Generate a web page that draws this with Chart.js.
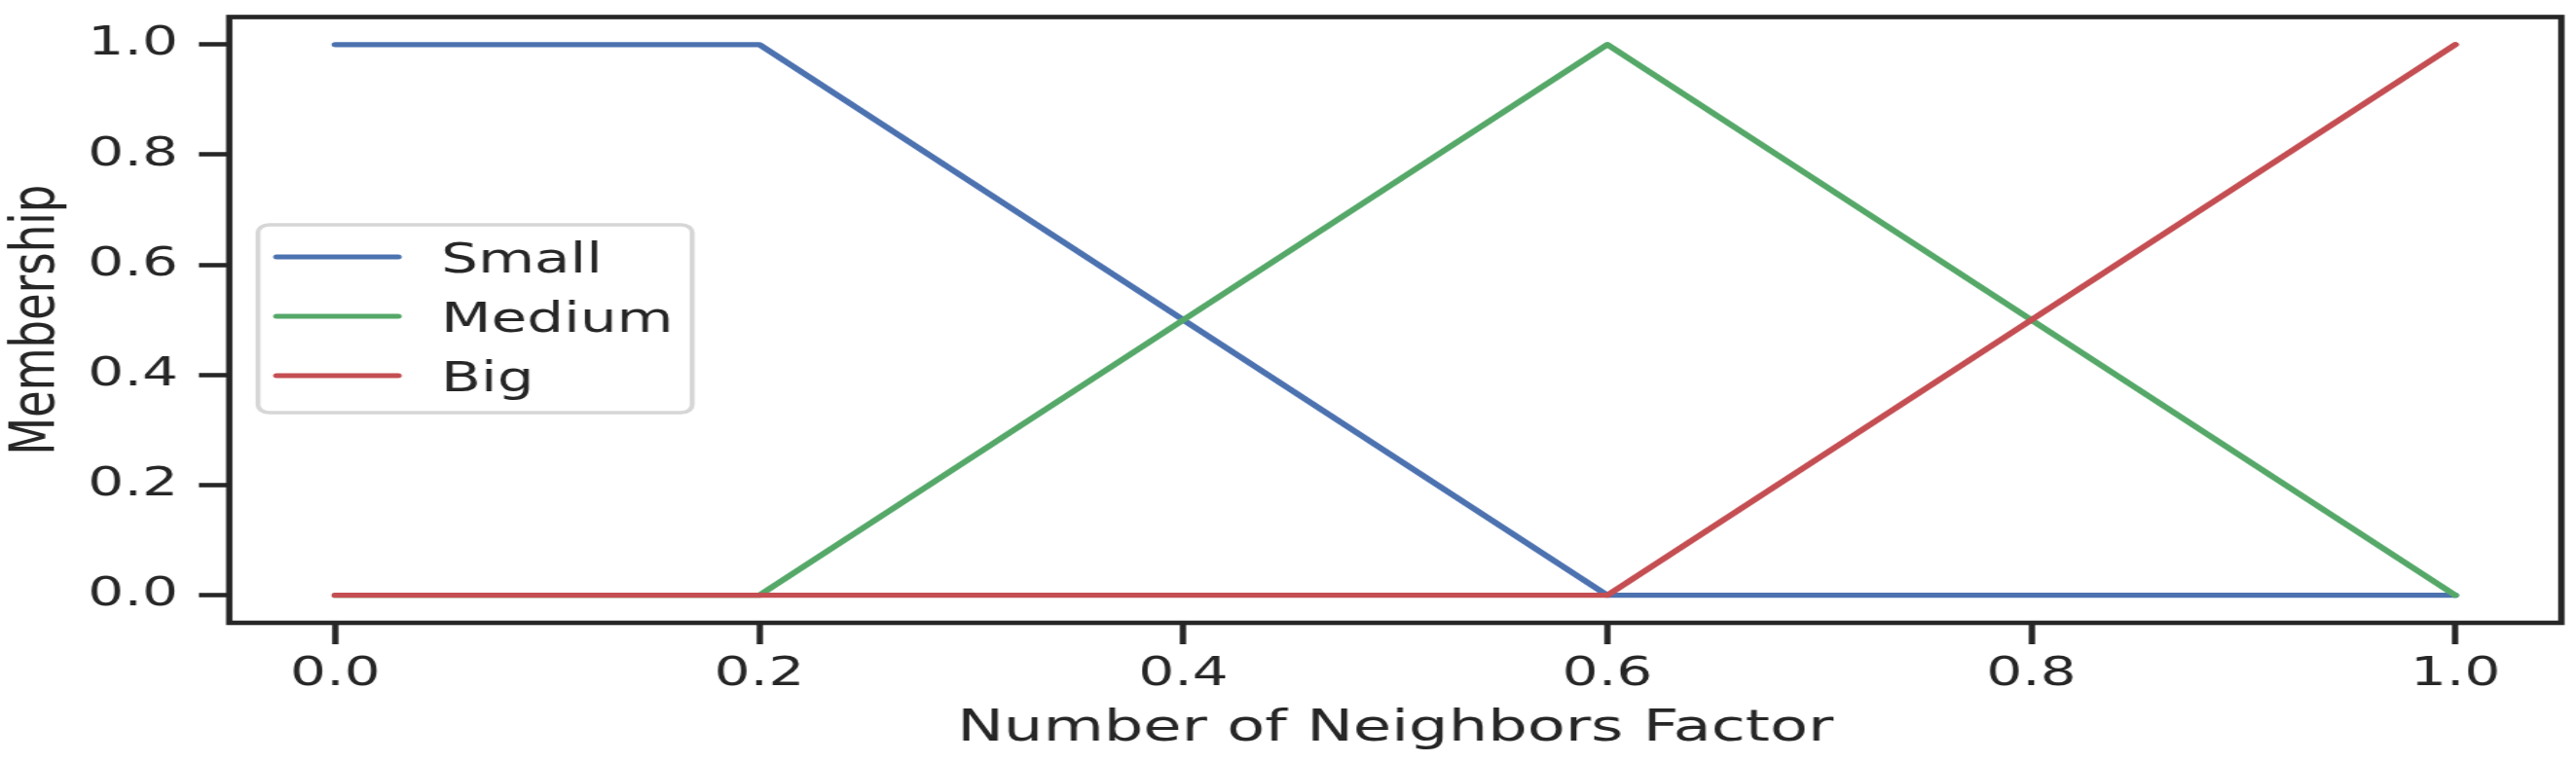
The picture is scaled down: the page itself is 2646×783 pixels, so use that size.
<!DOCTYPE html>
<html>
<head>
<meta charset="utf-8">
<script src="https://cdn.jsdelivr.net/npm/chart.js@4"></script>
<style>
    html, body { margin: 0; padding: 0; background: #fff; overflow: hidden; }
    #wrap { width: 1863px; height: 783px; transform: scaleX(1.4203); transform-origin: 0 0; }
</style>
</head>
<body>
<div id="wrap"><canvas id="membership-chart" width="1863" height="783"></canvas></div>
<script>
// membership functions, corner points
const seriesNames = ['Small', 'Medium', 'Big'];
const smallX = [0.0, 0.2, 0.6, 1.0];
const smallY = [1.0, 1.0, 0.0, 0.0];
const mediumX = [0.0, 0.2, 0.6, 1.0];
const mediumY = [0.0, 0.0, 1.0, 0.0];
const bigX = [0.0, 0.6, 1.0];
const bigY = [0.0, 0.0, 1.0];
const xTickValues = [0.0, 0.2, 0.4, 0.6, 0.8, 1.0];
const yTickValues = [0.0, 0.2, 0.4, 0.6, 0.8, 1.0];

const COLORS = ['#4C72B0', '#55A868', '#C44E52'];
const INK = '#262626';
const FONT = "'DejaVu Sans', sans-serif";

const toPoints = (xs, ys) => xs.map((x, i) => ({ x: x, y: ys[i] }));

// draws the box round the plot and the legend inside it
const frameAndLegend = {
    id: 'frameAndLegend',
    afterDatasetsDraw(chart) {
        const ctx = chart.ctx;
        const a = chart.chartArea;
        ctx.save();
        ctx.strokeStyle = INK;
        ctx.lineWidth = 4.6;
        ctx.strokeRect(a.left, a.top, a.right - a.left, a.bottom - a.top);

        // legend box
        ctx.beginPath();
        ctx.roundRect(186.6, 231, 314, 193, 8);
        ctx.fillStyle = 'rgba(255,255,255,0.8)';
        ctx.fill();
        ctx.strokeStyle = '#d6d6d6';
        ctx.lineWidth = 3.5;
        ctx.stroke();

        ctx.font = '42px ' + FONT;
        ctx.textBaseline = 'alphabetic';
        ctx.textAlign = 'left';
        chart.data.datasets.forEach((ds, i) => {
            const y = 264 + i * 61;
            ctx.beginPath();
            ctx.moveTo(200, y);
            ctx.lineTo(288, y);
            ctx.strokeStyle = ds.borderColor;
            ctx.lineWidth = 5;
            ctx.lineCap = 'round';
            ctx.stroke();
            ctx.fillStyle = INK;
            ctx.fillText(ds.label, 319, y + 15.5);
        });
        ctx.restore();
    }
};

const seriesX = [smallX, mediumX, bigX];
const seriesY = [smallY, mediumY, bigY];

new Chart(document.getElementById('membership-chart'), {
    type: 'line',
    data: {
        datasets: seriesNames.map((name, i) => ({
            label: name,
            data: toPoints(seriesX[i], seriesY[i]),
            borderColor: COLORS[i],
            backgroundColor: COLORS[i],
            borderWidth: 5.3,
            borderCapStyle: 'round',
            borderJoinStyle: 'round',
            pointRadius: 0,
            tension: 0,
            fill: false,
            order: seriesNames.length - 1 - i
        }))
    },
    options: {
        responsive: false,
        animation: false,
        devicePixelRatio: 1,
        layout: {
            padding: { left: 0, right: 10.6, top: 17.5, bottom: 0 }
        },
        plugins: {
            legend: { display: false },
            tooltip: { enabled: false }
        },
        scales: {
            x: {
                type: 'linear',
                min: -0.05,
                max: 1.05,
                afterBuildTicks: s => { s.ticks = xTickValues.map(v => ({ value: v })); },
                afterFit: s => { s.height = 143; s.paddingLeft = 0; s.paddingRight = 0; },
                border: { display: false },
                grid: {
                    drawOnChartArea: false,
                    drawTicks: true,
                    tickLength: 22,
                    tickWidth: 4.5,
                    tickColor: INK
                },
                ticks: {
                    color: INK,
                    padding: 7,
                    maxRotation: 0,
                    font: { size: 41, family: FONT },
                    callback: v => v.toFixed(1)
                },
                title: {
                    display: true,
                    text: 'Number of Neighbors Factor',
                    color: INK,
                    font: { size: 45, family: FONT },
                    padding: { top: 0, bottom: 7 }
                }
            },
            y: {
                type: 'linear',
                min: -0.05,
                max: 1.05,
                afterBuildTicks: s => { s.ticks = yTickValues.map(v => ({ value: v })); },
                afterFit: s => { s.width = 165.8; s.paddingTop = 0; s.paddingBottom = 0; },
                border: { display: false },
                grid: {
                    drawOnChartArea: false,
                    drawTicks: true,
                    tickLength: 22,
                    tickWidth: 4.5,
                    tickColor: INK
                },
                ticks: {
                    color: INK,
                    padding: 15,
                    font: { size: 41, family: FONT },
                    callback: v => v.toFixed(1)
                },
                title: {
                    display: true,
                    text: 'Membership',
                    color: INK,
                    font: { size: 45, family: FONT },
                    padding: { top: 0, bottom: 0 }
                }
            }
        }
    },
    plugins: [frameAndLegend]
});
</script>
</body>
</html>
